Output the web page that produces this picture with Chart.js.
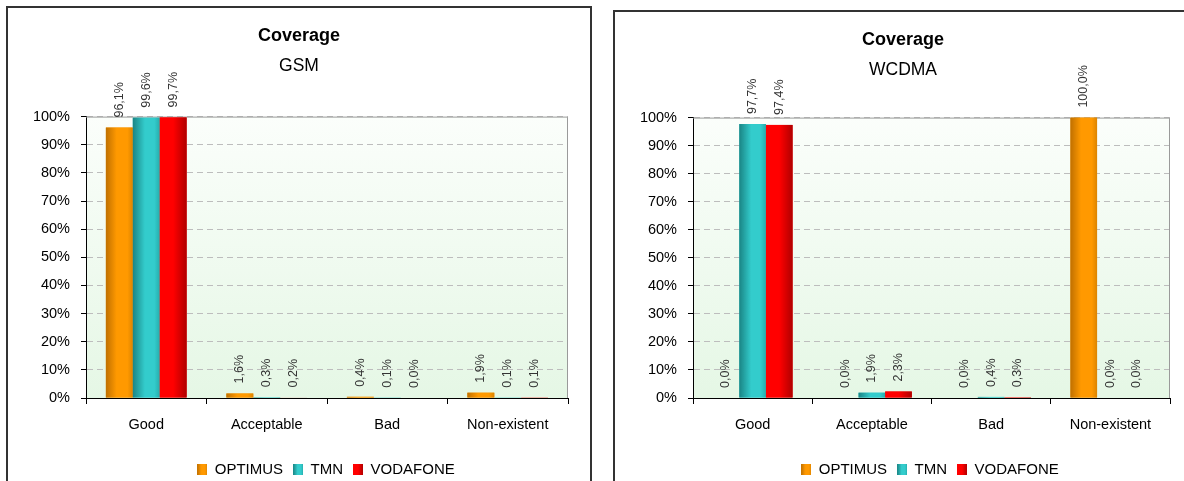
<!DOCTYPE html>
<html>
<head>
<meta charset="utf-8">
<script src="https://cdn.jsdelivr.net/npm/chart.js@4.4.1/dist/chart.umd.min.js"></script>
<style>
  html, body { margin: 0; padding: 0; background: #fff; overflow: hidden; }
  body { width: 1184px; height: 481px; position: relative; }
  .box { position: absolute; border: 2px solid #333; box-sizing: border-box; }
  #boxGsm { left: 6px; top: 6px; width: 586px; height: 520px; }
  #boxWcdma { left: 613px; top: 10px; width: 620px; height: 520px; }
  canvas { position: absolute; }
  #gsm { left: 8px; top: 8px; }
  #wcdma { left: 615px; top: 12px; }
</style>
</head>
<body>
<div class="box" id="boxGsm"></div>
<div class="box" id="boxWcdma"></div>
<canvas id="gsm" width="582" height="479"></canvas>
<canvas id="wcdma" width="569" height="475"></canvas>

<script>
// categories and operators
const categories = ['Good', 'Acceptable', 'Bad', 'Non-existent'];
const operators = ['OPTIMUS', 'TMN', 'VODAFONE'];

// GSM coverage, % of samples
const gsmOptimus = [96.1, 1.6, 0.4, 1.9];
const gsmTmn = [99.6, 0.3, 0.1, 0.1];
const gsmVodafone = [99.7, 0.2, 0.0, 0.1];

// WCDMA coverage, % of samples
const wcdmaOptimus = [0.0, 0.0, 0.0, 100.0];
const wcdmaTmn = [97.7, 1.9, 0.4, 0.0];
const wcdmaVodafone = [97.4, 2.3, 0.3, 0.0];

// y axis: 0% .. 100% every 10
const yMin = 0;
const yMax = 100;
const yStep = 10;

const FONT = "'Liberation Sans', Arial, sans-serif";

// base colour + horizontal shading stops for each operator
const colors = ['#f39200', '#2fc4c4', '#f20000'];
const shades = [
  [[0, '#c07000'], [0.4, '#ff9900'], [0.8, '#ff9900'], [1, '#dc8400']],
  [[0, '#1a8585'], [0.45, '#33cccc'], [0.8, '#33cccc'], [1, '#27adad']],
  [[0, '#ff0000'], [0.5, '#ff0000'], [1, '#b00000']]
];

const fmtPct = v => v.toFixed(1).replace('.', ',') + '%';

// small shaded square used as legend swatch
function swatch(stops) {
  const c = document.createElement('canvas');
  c.width = 10;
  c.height = 11;
  const g2 = c.getContext('2d');
  const g = g2.createLinearGradient(0, 0, 10, 0);
  stops.forEach(s => g.addColorStop(s[0], s[1]));
  g2.fillStyle = g;
  g2.fillRect(0, 0, 10, 11);
  return c;
}

// light green fade behind the bars + grey frame on top/right
const plotBg = {
  id: 'plotBg',
  beforeDraw(chart) {
    const { ctx, chartArea: a } = chart;
    const g = ctx.createLinearGradient(0, a.top, 0, a.bottom);
    g.addColorStop(0, '#fbfefb');
    g.addColorStop(1, '#e5f7e5');
    ctx.save();
    ctx.fillStyle = g;
    ctx.fillRect(a.left, a.top, a.right - a.left, a.bottom - a.top);
    ctx.restore();
  },
  beforeDatasetsDraw(chart) {
    const { ctx, chartArea: a } = chart;
    ctx.save();
    ctx.strokeStyle = '#9a9a9a';
    ctx.lineWidth = 1;
    ctx.beginPath();
    ctx.moveTo(a.left, a.top + 0.5);
    ctx.lineTo(a.right - 0.5, a.top + 0.5);
    ctx.lineTo(a.right - 0.5, a.bottom);
    ctx.stroke();
    ctx.restore();
  }
};

// the legend sits a bit right of the title
const legendShift = {
  id: 'legendShift',
  afterLayout(chart, args, opts) {
    chart.legend.left += opts.dx;
    chart.legend.right += opts.dx;
  }
};

// repaint each bar with a left-to-right shading
const barShade = {
  id: 'barShade',
  afterDatasetsDraw(chart) {
    const ctx = chart.ctx;
    chart.data.datasets.forEach((ds, di) => {
      chart.getDatasetMeta(di).data.forEach(bar => {
        const { x, y, base, width } = bar.getProps(['x', 'y', 'base', 'width'], true);
        if (base - y <= 0) return;
        const left = x - width / 2;
        const g = ctx.createLinearGradient(left, 0, left + width, 0);
        ds.shade.forEach(s => g.addColorStop(s[0], s[1]));
        ctx.fillStyle = g;
        ctx.fillRect(left, y, width, base - y);
      });
    });
  }
};

// rotated value labels above the bars
const valueLabels = {
  id: 'valueLabels',
  afterDatasetsDraw(chart) {
    const ctx = chart.ctx;
    ctx.save();
    ctx.font = '12.5px ' + FONT;
    ctx.fillStyle = '#333';
    ctx.textAlign = 'left';
    ctx.textBaseline = 'middle';
    chart.data.datasets.forEach((ds, di) => {
      chart.getDatasetMeta(di).data.forEach((bar, i) => {
        const { x, y } = bar.getProps(['x', 'y'], true);
        ctx.save();
        ctx.translate(x, y - 10);
        ctx.rotate(-Math.PI / 2);
        ctx.fillText(fmtPct(ds.data[i]), 0, 0);
        ctx.restore();
      });
    });
    ctx.restore();
  }
};

function makeChart(id, tech, series, pad) {
  const datasets = series.map((vals, k) => ({
    label: operators[k],
    data: vals,
    backgroundColor: colors[k],
    borderWidth: 0,
    pointStyle: swatch(shades[k]),
    shade: shades[k]
  }));

  return new Chart(document.getElementById(id), {
    type: 'bar',
    data: { labels: categories, datasets: datasets },
    plugins: [plotBg, legendShift, barShade, valueLabels],
    options: {
      responsive: false,
      animation: false,
      devicePixelRatio: 1,
      layout: { padding: { left: pad.left, right: pad.right, top: 0, bottom: 0 } },
      datasets: { bar: { categoryPercentage: 0.67, barPercentage: 1 } },
      plugins: {
        title: {
          display: true,
          text: 'Coverage',
          color: '#000',
          font: { family: FONT, size: 18, weight: 'bold' },
          padding: { top: 17, bottom: 0 }
        },
        subtitle: {
          display: true,
          text: tech,
          color: '#000',
          font: { family: FONT, size: 17.5 },
          padding: { top: 9, bottom: pad.sub }
        },
        legend: {
          position: 'bottom',
          labels: {
            color: '#000',
            font: { family: FONT, size: 15 },
            usePointStyle: true,
            boxWidth: 10,
            boxHeight: 11,
            padding: 10
          }
        },
        legendShift: { dx: 27 },
        tooltip: { enabled: false }
      },
      scales: {
        x: {
          grid: { display: true, drawOnChartArea: false, offset: true, tickLength: 6, color: '#000' },
          border: { color: '#000' },
          ticks: { color: '#000', font: { family: FONT, size: 14.5 }, padding: 12 },
          afterFit: s => { s.height = 54; }
        },
        y: {
          min: yMin,
          max: yMax,
          ticks: {
            stepSize: yStep,
            color: '#000',
            font: { family: FONT, size: 14.5 },
            padding: 11,
            callback: v => v + '%'
          },
          grid: {
            color: c => (c.tick && c.tick.value === yMin) ? 'rgba(0,0,0,0)' : '#bdbdbd',
            tickColor: '#000',
            tickLength: 5
          },
          border: { color: '#000', dash: [6, 4] },
          afterFit: s => { s.width = 78 - pad.left; }
        }
      }
    }
  });
}

makeChart('gsm', 'GSM', [gsmOptimus, gsmTmn, gsmVodafone], { left: 22, right: 22, sub: 40 });
makeChart('wcdma', 'WCDMA', [wcdmaOptimus, wcdmaTmn, wcdmaVodafone], { left: 21, right: 14, sub: 37 });
</script>
</body>
</html>
